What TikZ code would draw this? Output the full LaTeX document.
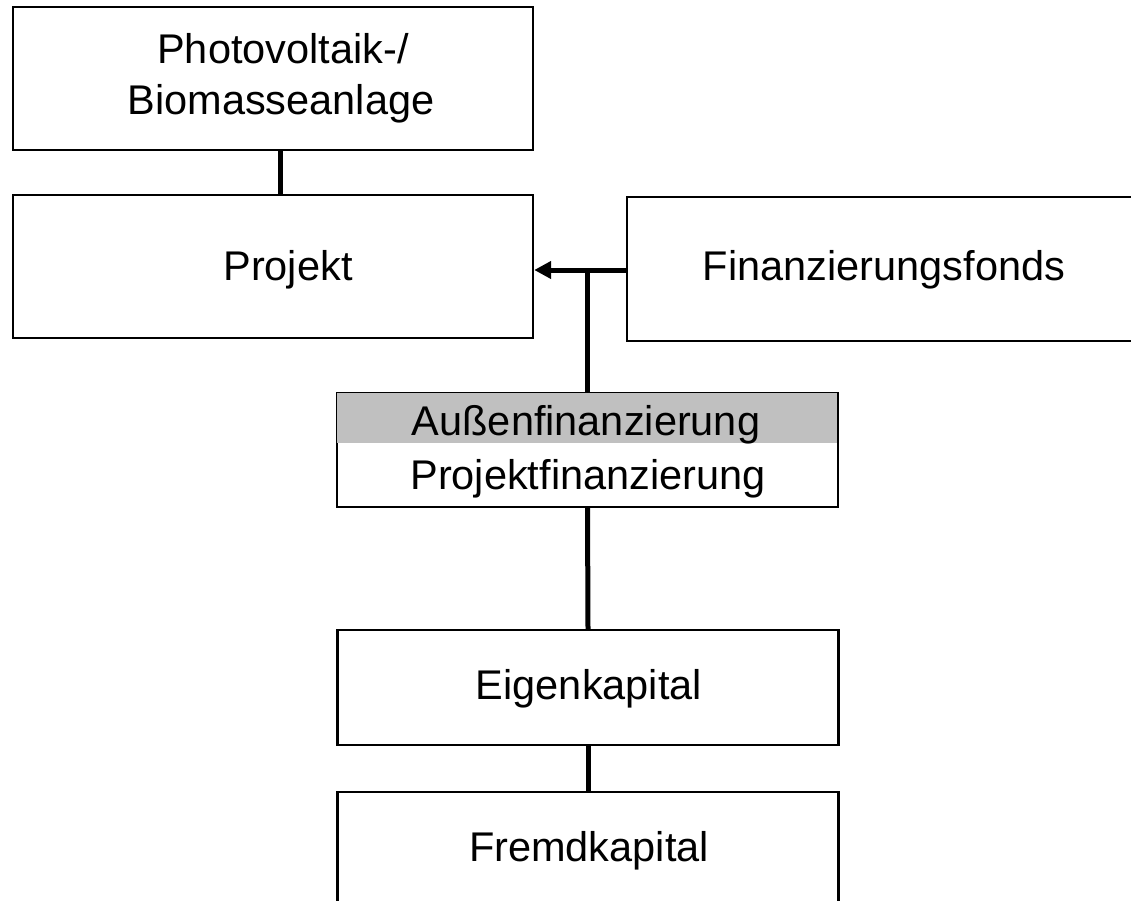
\documentclass[tikz,border=0pt]{standalone}
\usepackage{fontspec}
\setmainfont{Liberation Sans}
\usetikzlibrary{arrows.meta}
\definecolor{band}{RGB}{192,192,192}
\tikzset{
  box/.style={draw=black, line width=2.4pt, fill=white, inner sep=0pt},
  lbl/.style={inner sep=0pt, font=\fontsize{41.5}{46}\selectfont, align=center},
  conn/.style={line width=5pt},
}
\begin{document}
\begin{tikzpicture}[x=1pt,y=-1pt]
\useasboundingbox (0,0) rectangle (1131,901);
\clip (0,0) rectangle (1131,901);
% boxes
\node[box, minimum width=520pt, minimum height=143pt] (pv) at (273,78.5) {};
\node[box, minimum width=520pt, minimum height=143pt] (pj) at (273,266.5) {};
\node[box, minimum width=520pt, minimum height=144pt] (fo) at (887,269) {};
\node[box, minimum width=501pt, minimum height=114pt] (af) at (587.5,450) {};
\fill[band] ([xshift=1.2pt,yshift=-1.2pt]af.north west) rectangle (836.8,443);
\node[box, minimum width=501pt, minimum height=115pt] (ek) at (588,687.5) {};
\node[box, minimum width=501pt, minimum height=118pt] (fk) at (588,851) {};
% labels
\node[lbl, anchor=base] (pvt1) at (283,64) {Photovoltaik-/};
\node[lbl, anchor=base] (pvt2) at (281,115) {Biomasseanlage};
\node[lbl] (pjt) at (288,270) {Projekt};
\node[lbl] (fot) at (884,270) {Finanzierungsfonds};
\node[lbl, anchor=base] (af1) at (586,435) {Außenfinanzierung};
\node[lbl, anchor=base] (af2) at (588,489) {Projektfinanzierung};
\node[lbl] (ekt) at (589,689) {Eigenkapital};
\node[lbl] (fkt) at (589,851) {Fremdkapital};
% connectors
\draw[conn] ([xshift=7pt]pv.south) -- ([xshift=7pt]pj.north);
\draw[conn, -{Triangle[length=17pt,width=17pt]}] ([yshift=-1pt]fo.west) -- ([yshift=-1pt]fo.west -| pj.east);
\coordinate (junc) at ([yshift=-1pt]af.north |- fo.west);
\draw[conn] (af.north) -- (junc);
\draw[conn] (af.south) -- (ek.north);
\draw[conn] (ek.south) -- (fk.north);
\end{tikzpicture}
\end{document}
